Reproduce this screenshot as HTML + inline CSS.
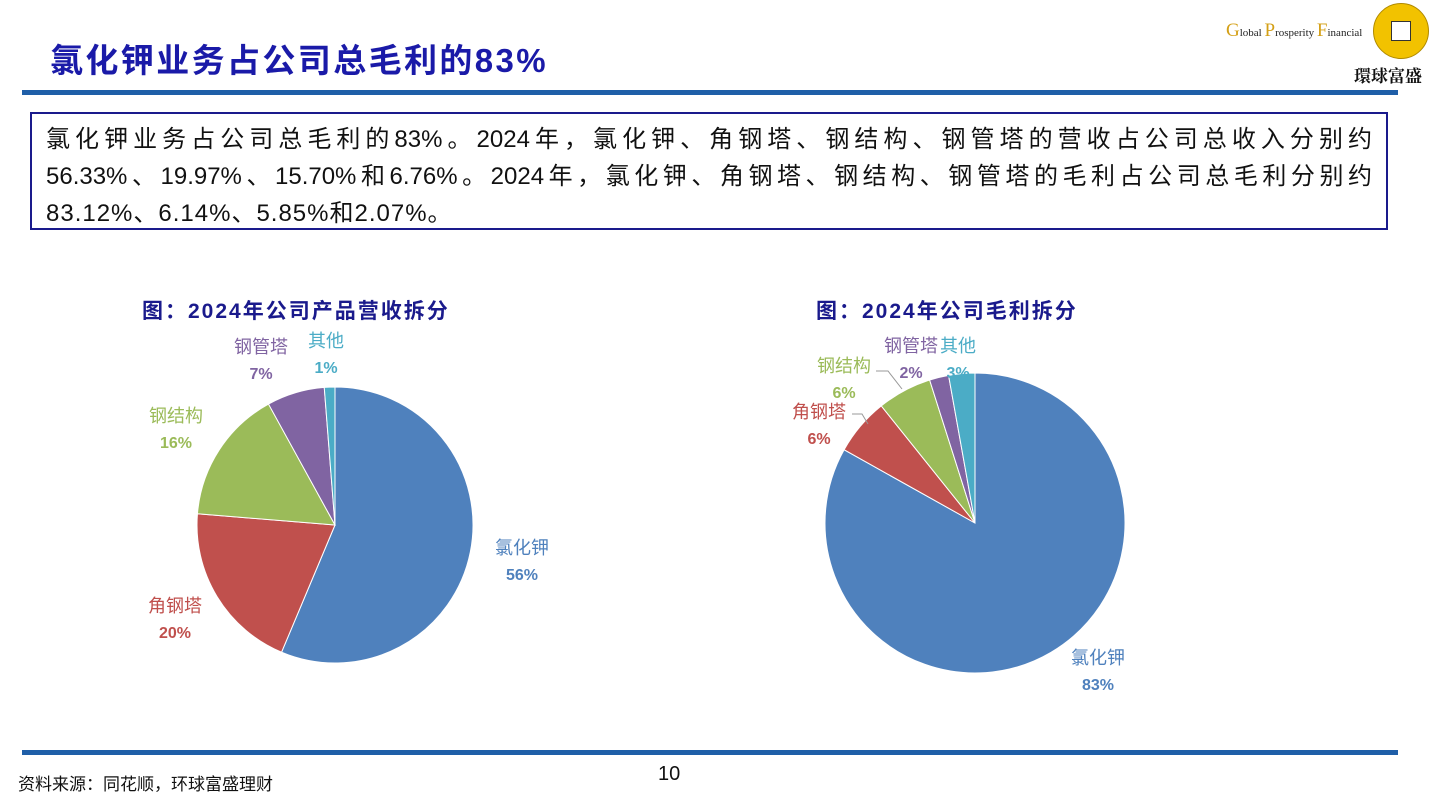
<!DOCTYPE html>
<html><head><meta charset="utf-8">
<style>
body{margin:0;width:1440px;height:810px;background:#fff;position:relative;overflow:hidden;font-family:"Liberation Sans","Noto Sans CJK SC",sans-serif}
.abs{position:absolute}
.ln{text-align:justify;text-align-last:justify;white-space:nowrap;height:37px}
</style></head><body>
<div class="abs" style="left:50px;top:34px;font-size:33px;letter-spacing:2.4px;font-weight:bold;color:#1a1aa8">氯化钾业务占公司总毛利的83%</div>
<div class="abs" style="left:1226px;top:2px;width:212px;height:84px">
 <div class="abs" style="left:0;top:18px;font-family:'Liberation Serif',serif;font-size:11px;color:#222;white-space:nowrap"><span style="color:#d4a017;font-size:19px">G</span>lobal <span style="color:#d4a017;font-size:19px">P</span>rosperity <span style="color:#d4a017;font-size:19px">F</span>inancial</div>
 <div class="abs" style="left:147px;top:1px;width:54px;height:54px;border-radius:50%;background:#f2c200;border:1px solid #b08a00"><div class="abs" style="left:17px;top:17px;width:18px;height:18px;background:#fff;border:1px solid #333"></div></div>
 <div class="abs" style="left:128px;top:60px;font-size:17px;font-weight:bold;color:#111;font-family:'Noto Serif CJK SC',serif">環球富盛</div>
</div>
<div class="abs" style="left:22px;top:90px;width:1376px;height:5px;background:#1f5fa8"></div>
<div class="abs" style="left:30px;top:112px;width:1358px;height:118px;border:2px solid #1a1a8c;box-sizing:border-box;padding:7px 14px;font-size:24px;line-height:37px;color:#111">
 <div class="ln">氯化钾业务占公司总毛利的83%。2024年，氯化钾、角钢塔、钢结构、钢管塔的营收占公司总收入分别约</div>
 <div class="ln">56.33%、19.97%、15.70%和6.76%。2024年，氯化钾、角钢塔、钢结构、钢管塔的毛利占公司总毛利分别约</div>
 <div style="white-space:nowrap;letter-spacing:1px">83.12%、6.14%、5.85%和2.07%。</div>
</div>
<div class="abs" style="left:142px;top:295px;font-size:21px;letter-spacing:2px;font-weight:bold;color:#1a1a8c;white-space:nowrap">图：2024年公司产品营收拆分</div>
<div class="abs" style="left:816px;top:295px;font-size:21px;letter-spacing:2px;font-weight:bold;color:#1a1a8c;white-space:nowrap">图：2024年公司毛利拆分</div>
<svg class="abs" style="left:0;top:0" width="1440" height="810" id="svg"></svg>
<div class="abs" style="left:22px;top:750px;width:1376px;height:5px;background:#1f5fa8"></div>
<div class="abs" style="left:18px;top:770px;font-size:17px;color:#111">资料来源：同花顺，环球富盛理财</div>
<div class="abs" style="left:658px;top:763px;font-size:20px;color:#111">10</div>
<script>
const categories=["氯化钾","角钢塔","钢结构","钢管塔","其他"];
const revenueValues=[56.33,19.97,15.70,6.76,1.24];
const profitValues=[83.12,6.14,5.85,2.07,2.82];
const colors=["#4f81bd","#c0504d","#9bbb59","#8064a2","#4bacc6"];
const NS="http://www.w3.org/2000/svg";
const svg=document.getElementById('svg');
function mk(t,a){const e=document.createElementNS(NS,t);for(const k in a)e.setAttribute(k,a[k]);svg.appendChild(e);return e;}
function pie(vals,cx,cy,r,id,labelPos){
 const tot=vals.reduce((a,b)=>a+b,0);let a0=0;
 vals.forEach((v,i)=>{
  const a1=a0+v/tot*2*Math.PI;
  const x0=cx+r*Math.sin(a0),y0=cy-r*Math.cos(a0),x1=cx+r*Math.sin(a1),y1=cy-r*Math.cos(a1);
  const p=mk('path',{d:`M${cx},${cy}L${x0},${y0}A${r},${r} 0 ${a1-a0>Math.PI?1:0} 1 ${x1},${y1}Z`,fill:colors[i],stroke:'#fff','stroke-width':1});
  
  
  const [lx,ly]=labelPos[i];
  const t1=mk('text',{x:lx,y:ly,fill:colors[i],'font-size':18,'text-anchor':'middle'});t1.textContent=categories[i];
  
  
  const t2=mk('text',{x:lx,y:ly+26,fill:colors[i],'font-size':16,'font-weight':'bold','text-anchor':'middle'});t2.textContent=Math.round(v)+'%';
  
  
  a0=a1;
 });
}
pie(revenueValues,335,525,138,'revenue',[[522,554],[175,612],[176,422],[261,353],[326,347]]);
pie(profitValues,975,523,150,'profit',[[1098,664],[819,418],[844,372],[911,352],[958,352]]);
mk('polyline',{points:'876,371 888,371 902,389',fill:'none',stroke:'#999'});
mk('polyline',{points:'852,414 862,414 868,424',fill:'none',stroke:'#999'});
</script>
</body></html>
